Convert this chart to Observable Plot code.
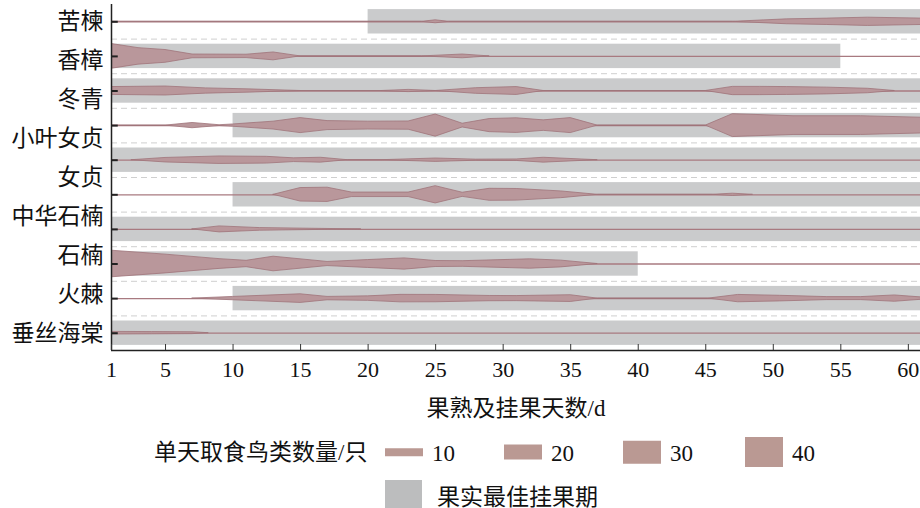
<!DOCTYPE html>
<html><head><meta charset="utf-8">
<script src="https://cdn.jsdelivr.net/npm/d3@7"></script>
<script src="https://cdn.jsdelivr.net/npm/@observablehq/plot@0.6"></script>
<style>
body{margin:0;background:#fff;overflow:hidden;width:920px;height:508px}
#legend{position:relative;width:920px;height:83px;font-family:"Liberation Serif","Noto Sans CJK SC",serif;font-size:23px;color:#111}
#legend .t{position:absolute;line-height:1;transform:translateY(-50%);white-space:nowrap}
#legend .sw{position:absolute;transform:translateY(-50%)}
</style></head><body>
<div id="chart"></div><div id="legend"></div>
<script>
// ---- data ----
const rowLabels = ["苦楝","香樟","冬青","小叶女贞","女贞","中华石楠","石楠","火棘","垂丝海棠"];
const rows = [0,1,2,3,4,5,6,7,8,9];
const bandStart = [20,1,1,10,1,10,1,1,10,1];
const bandEnd   = [61,55,61,61,61,61,61,40,61,61];
const xTicks = [1,5,10,15,20,25,30,35,40,45,50,55,60];
const legendCounts = [10,20,30,40];
const birdDays = [
  [1,24,25,26,47,51,54,57,61],
  [1,3,5,7,11,13,15,24,27,29],
  [1,5,8,11,15,21,23,25,28,31,33,45,47,49,51,54,57,59],
  [1,5,7,9,10,13,15,17,20,23,25,27,29,31,33,35,37,45,47,51.5,56.5,61],
  [2.5,5,9,12.5,14.5,16.5,18.5,21,25,28,31,33,37],
  [13,15,17,18.8,23,25,27,29,31,34.3,37,45.5,47,48.5],
  [7,9,12,19.5],
  [1,5,9,11,13,17,20,22.7,25,27,32,34.3,37],
  [7,10,15,17,20,22.4,25,29,31,35,37,45.2,47.4,50.5,54,56.5,59,61],
  [1,4,7,8.2]
];
const birdCounts = [
  [0,0,4,0,0,6.5,8.5,11,8.5],
  [33,22,17,5,4.5,10.5,0,0,5,0],
  [10.5,12,7,4.5,0,0,3,0,7.5,10.5,0,0,11,11,10.5,9,6,0],
  [0,0,7,1,3,10.5,20,12,10.5,11,29.5,5,17.5,19.5,14,20,0,0,30.5,25,25,21],
  [0,6,10,9,5,6.5,0,0,4.5,1.5,2,6.5,0],
  [0,18,19,6,6,23,5.5,16,15.5,9,0,0,3,0],
  [0,8,3.5,0],
  [35.5,25,13,8.5,19.5,5.5,10.5,15,8,7.5,12.5,9,0],
  [0,4.4,11.5,4.5,6,10,9.8,7,6.8,9,0,0,9.8,7.5,4,4,8.4,3],
  [3.5,3,2.5,0]
];

// ---- layout ----
const W = 920, H = 425, mT = 4, mB = 75, mL = 111;
const innerH = H - mT - mB;
const rowPx = innerH / 10;        // pixels per row unit
const pxPerBird = 0.75;           // violin thickness per bird (px)
const halfUnits = c => c * pxPerBird / 2 / rowPx;
const bandHalf = 12.2 / rowPx;

const bands = rows.map(r => ({row: r, x1: bandStart[r], x2: bandEnd[r]}));
const violin = [];
rows.forEach(r => birdDays[r].forEach((d, i) => {
  const h = halfUnits(birdCounts[r][i]);
  violin.push({row: r, day: d, lo: r - h, hi: r + h});
}));
const seps = rows.slice(0, 9).map(r => r + 0.5);

const font = "'Liberation Serif','Noto Sans CJK SC',serif";
const violinFill = "#b9979b", violinStroke = "#a0737a";

const chart = Plot.plot({
  width: W, height: H,
  marginTop: mT, marginBottom: mB, marginLeft: mL, marginRight: 0,
  style: {fontFamily: font, fontSize: "22px", color: "#111", background: "#fff"},
  x: {domain: [1, 60.9], axis: null},
  y: {domain: [9.5, -0.5], axis: null},
  marks: [
    Plot.rect(bands, {x1: "x1", x2: "x2", y1: d => d.row - bandHalf, y2: d => d.row + bandHalf, fill: "#cacbcc", clip: true}),
    Plot.ruleY(seps, {stroke: "#cfcfcf", strokeDasharray: "6,4", strokeWidth: 1}),
    Plot.ruleY(rows, {stroke: "#a87a80", strokeWidth: 1.3}),
    Plot.areaY(violin, {x: "day", y1: "lo", y2: "hi", z: "row", fill: violinFill, stroke: violinStroke, strokeWidth: 0.8, clip: true}),
    Plot.ruleX([1], {stroke: "#222", strokeWidth: 1.5}),
    Plot.ruleY([9.5], {stroke: "#222", strokeWidth: 1.5}),
    Plot.ruleX(xTicks, {stroke: "#333", strokeWidth: 1, insetTop: innerH - 6}),
    Plot.ruleY(rows, {x1: 1, x2: 1.5, stroke: "#222", strokeWidth: 2}),
    Plot.axisX(xTicks, {tickSize: 0, tickPadding: 11, fontSize: 22, label: null, fill: "#111"}),
    Plot.text(rowLabels, {y: (d, i) => i * 9 / 8, frameAnchor: "left", textAnchor: "end", dx: -8, fontSize: 23, fill: "#111"}),
    Plot.text(["果熟及挂果天数/d"], {frameAnchor: "bottom", dy: 65, fontSize: 23, fill: "#111"})
  ]
});
document.getElementById("chart").appendChild(chart);

// ---- legend ----
const lg = document.getElementById("legend");
function add(cls, left, top, css, text) {
  const e = document.createElement("div");
  e.className = cls;
  e.style.left = left + "px"; e.style.top = top + "px";
  Object.assign(e.style, css || {});
  if (text != null) e.textContent = text;
  lg.appendChild(e);
}
const row1 = 27, row2 = 72;
add("t", 154, row1, {}, "单天取食鸟类数量/只");
const swLeft = [385, 504, 623, 745];
legendCounts.forEach((c, i) => {
  add("sw", swLeft[i], row1, {width: "38px", height: (c * pxPerBird) + "px", background: "#ba9993"});
  add("t", swLeft[i] + 47, row1 + 1, {}, String(c));
});
add("sw", 385, row2, {width: "37px", height: "34px", background: "#bcbdbe"});
add("t", 437, row2, {}, "果实最佳挂果期");
</script>
</body></html>
